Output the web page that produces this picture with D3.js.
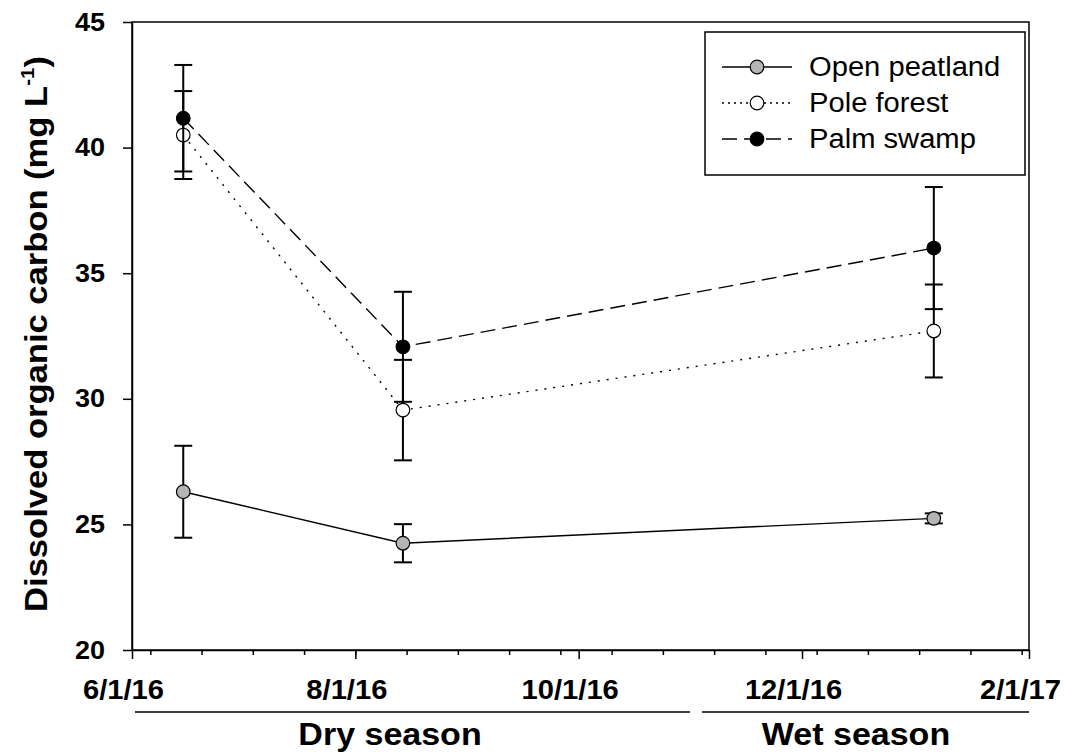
<!DOCTYPE html>
<html>
<head>
<meta charset="utf-8">
<script src="https://cdn.jsdelivr.net/npm/d3@7"></script>
<style>
  body { margin: 0; background: #fff; }
  svg { display: block; font-family: "Liberation Sans", Arial, sans-serif; }
</style>
</head>
<body>
<svg width="1067" height="755"></svg>
<script>
const parseDate = d3.timeParse("%m/%d/%Y");

// sampling dates
const dates = ["06/15/2016", "08/14/2016", "01/06/2017"];

const series = ["Open peatland", "Pole forest", "Palm swamp"];
const openMean = [26.3, 24.25, 25.24];
const openErr = [1.83, 0.76, 0.2];
const poleMean = [40.5, 29.55, 32.7];
const poleErr = [1.75, 2.0, 1.85];
const palmMean = [41.17, 32.07, 36.0];
const palmErr = [2.12, 2.19, 2.43];

const xMajorTicks = ["06/01/2016", "08/01/2016", "10/01/2016", "12/01/2016", "02/01/2017"];
const xMinorStart = "06/06/2016";
const yTicks = [20, 25, 30, 35, 40, 45];

const seasons = ["Dry season", "Wet season"];

// the original font renders a bit wider than Liberation Sans
const stretch = 1.08;

let svg = d3.select("svg");

let x = d3.scaleTime()
    .domain([parseDate("06/01/2016"), parseDate("02/01/2017")])
    .range([132, 1029]);

let y = d3.scaleLinear()
    .domain([20, 45])
    .range([650, 22]);

const styles = {
    "Open peatland": { fill: "#b4b4b4", dash: null },
    "Pole forest": { fill: "#ffffff", dash: "2,7" },
    "Palm swamp": { fill: "#000000", dash: "15,7" }
};

let data = series.map((name, i) => {
    let means = [openMean, poleMean, palmMean][i];
    let errs = [openErr, poleErr, palmErr][i];
    return {
        name: name,
        values: dates.map((d, j) => ({ date: parseDate(d), v: means[j], e: errs[j] }))
    };
});

// frame
svg.append("rect")
    .attr("x", 132).attr("y", 22)
    .attr("width", 1029 - 132).attr("height", 650 - 22)
    .attr("fill", "none").attr("stroke", "#000").attr("stroke-width", 1.5);

// minor x ticks every 14 days
let minor = d3.timeDay.range(parseDate(xMinorStart), parseDate("02/02/2017"), 14);

svg.append("g")
    .attr("transform", "translate(0,650)")
    .call(d3.axisBottom(x).tickValues(minor).tickSize(5).tickFormat(""))
    .call(g => g.select(".domain").remove())
    .selectAll("line").attr("stroke-width", 1.5);

let xAxis = svg.append("g")
    .attr("transform", "translate(0,650)")
    .call(d3.axisBottom(x)
        .tickValues(xMajorTicks.map(parseDate))
        .tickSize(9)
        .tickSizeOuter(0)
        .tickFormat(d3.timeFormat("%-m/%-d/%y")));
xAxis.select(".domain").attr("stroke-width", 1.5);
xAxis.selectAll("line").attr("stroke-width", 1.5);
xAxis.selectAll("text")
    .attr("transform", `scale(${stretch},1)`)
    .attr("x", -9 / stretch)
    .attr("y", 49)
    .attr("dy", 0)
    .attr("font-family", "Liberation Sans, Arial, sans-serif")
    .attr("font-size", 27)
    .attr("font-weight", "bold")
    .attr("fill", "#000");

let yAxis = svg.append("g")
    .attr("transform", "translate(132,0)")
    .call(d3.axisLeft(y).tickValues(yTicks).tickSize(9).tickSizeOuter(0));
yAxis.select(".domain").attr("stroke-width", 1.5);
yAxis.selectAll("line").attr("stroke-width", 1.5);
yAxis.selectAll("text")
    .attr("transform", `scale(${stretch},1)`)
    .attr("x", -27 / stretch)
    .attr("font-family", "Liberation Sans, Arial, sans-serif")
    .attr("font-size", 25)
    .attr("font-weight", "bold")
    .attr("fill", "#000");

// y title
let yTitle = svg.append("text")
    .attr("transform", `translate(47,334) rotate(-90) scale(${stretch},1)`)
    .attr("text-anchor", "middle")
    .attr("font-size", 32)
    .attr("font-weight", "bold");
yTitle.append("tspan").text("Dissolved organic carbon (mg L");
yTitle.append("tspan").attr("font-size", 19).attr("dy", -13).text("-1");
yTitle.append("tspan").attr("dy", 13).text(")");

// season brackets
const seasonSpans = [[135, 690], [702, 1029]];
const seasonCenters = [390, 856];
seasons.forEach((s, i) => {
    let sp = seasonSpans[i];
    svg.append("line")
        .attr("x1", sp[0]).attr("x2", sp[1])
        .attr("y1", 712).attr("y2", 712)
        .attr("stroke", "#000").attr("stroke-width", 1.5);
    svg.append("text")
        .attr("transform", `translate(${seasonCenters[i]},745) scale(${stretch},1)`)
        .attr("text-anchor", "middle")
        .attr("font-size", 31.5)
        .attr("font-weight", "bold")
        .text(s);
});

let line = d3.line()
    .x(d => x(d.date))
    .y(d => y(d.v));

let groups = svg.selectAll(".series")
    .data(data)
    .enter()
    .append("g")
    .attr("class", "series");

groups.append("path")
    .attr("d", d => line(d.values))
    .attr("fill", "none")
    .attr("stroke", "#000")
    .attr("stroke-width", 1.4)
    .attr("stroke-dasharray", d => styles[d.name].dash);

// error bars
groups.each(function (d) {
    let g = d3.select(this);
    d.values.forEach(p => {
        let cx = x(p.date);
        g.append("line")
            .attr("x1", cx).attr("x2", cx)
            .attr("y1", y(p.v + p.e)).attr("y2", y(p.v - p.e))
            .attr("stroke", "#000").attr("stroke-width", 2);
        [p.v + p.e, p.v - p.e].forEach(v => {
            g.append("line")
                .attr("x1", cx - 9).attr("x2", cx + 9)
                .attr("y1", y(v)).attr("y2", y(v))
                .attr("stroke", "#000").attr("stroke-width", 2);
        });
    });
});

groups.selectAll("circle")
    .data(d => d.values.map(v => Object.assign({ name: d.name }, v)))
    .enter()
    .append("circle")
    .attr("cx", d => x(d.date))
    .attr("cy", d => y(d.v))
    .attr("r", 6.8)
    .attr("fill", d => styles[d.name].fill)
    .attr("stroke", "#000")
    .attr("stroke-width", 1.2);

// legend
let legend = svg.append("g");
legend.append("rect")
    .attr("x", 705).attr("y", 32)
    .attr("width", 320).attr("height", 143)
    .attr("fill", "#fff").attr("stroke", "#000").attr("stroke-width", 1.5);

series.forEach((s, i) => {
    let ly = 67 + i * 36;
    legend.append("line")
        .attr("x1", 722).attr("x2", 792)
        .attr("y1", ly).attr("y2", ly)
        .attr("stroke", "#000").attr("stroke-width", 1.4)
        .attr("stroke-dasharray", s === "Pole forest" ? "2,4" : styles[s].dash);
    legend.append("circle")
        .attr("cx", 757).attr("cy", ly).attr("r", 6.8)
        .attr("fill", styles[s].fill)
        .attr("stroke", "#000").attr("stroke-width", 1.2);
    legend.append("text")
        .attr("transform", `translate(809,${ly + 9}) scale(${stretch},1)`)
        .attr("font-size", 27)
        .text(s);
});
</script>
</body>
</html>
